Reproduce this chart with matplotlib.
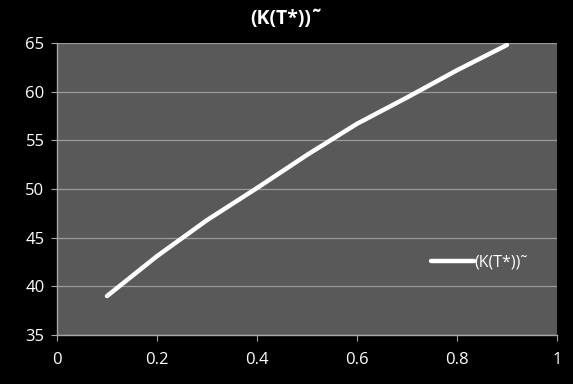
import matplotlib
matplotlib.use("Agg")
import matplotlib.pyplot as plt

x_vals = [0.1, 0.2, 0.3, 0.4, 0.5, 0.6, 0.7, 0.8, 0.9]
k_vals = [39.0, 43.1, 46.8, 50.1, 53.5, 56.7, 59.4, 62.2, 64.8]
series_name = "(K(T*))˜"
title_text = "(K(T*))˜"
x_ticks = [0, 0.2, 0.4, 0.6, 0.8, 1]
x_tick_labels = ["0", "0.2", "0.4", "0.6", "0.8", "1"]
y_ticks = [35, 40, 45, 50, 55, 60, 65]

plt.rcParams['font.family'] = ['Open Sans', 'DejaVu Sans']

fig = plt.figure(figsize=(5.73, 3.84), dpi=100, facecolor='black')
ax = fig.add_axes([57/573, 1-335/384, 500/573, 292/384])
ax.set_facecolor('#595959')

ax.plot(x_vals, k_vals, color='white', lw=3.2, solid_capstyle='round',
        solid_joinstyle='round', label=series_name)

ax.set_xlim(0, 1)
ax.set_ylim(35, 65)
ax.set_xticks(x_ticks)
ax.set_xticklabels(x_tick_labels)
ax.set_yticks(y_ticks)
ax.grid(axis='y', color='#9a9a9a', lw=0.9)
ax.set_axisbelow(True)

for s in ['top', 'right']:
    ax.spines[s].set_visible(False)
for s in ['left', 'bottom']:
    ax.spines[s].set_color('#a6a6a6')
    ax.spines[s].set_linewidth(1.0)

ax.tick_params(colors='#a6a6a6', labelcolor='white', labelsize=12, length=4, direction='out', pad=5)
ax.tick_params(axis='x', pad=8)

fig.text(0.5, 1-19/384, title_text, color='white', fontsize=14, fontweight='bold', ha='center', va='center')

leg = ax.legend(loc='center left', bbox_to_anchor=(0.735, 0.247), frameon=False,
                handlelength=2.7, handletextpad=0.05, fontsize=11.5, borderaxespad=0)
for t in leg.get_texts():
    t.set_color('white')

fig.savefig('out.png', dpi=100, facecolor='black')
